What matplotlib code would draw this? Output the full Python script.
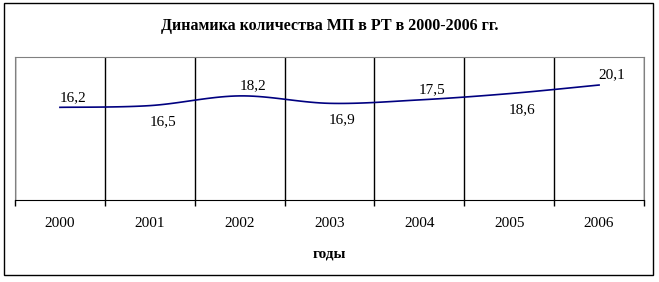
import matplotlib
matplotlib.use("Agg")
import matplotlib.pyplot as plt
import numpy as np
from matplotlib.patches import Rectangle

years = ["2000", "2001", "2002", "2003", "2004", "2005", "2006"]
values = [16.2, 16.5, 18.2, 16.9, 17.5, 18.6, 20.1]
value_labels = ["16,2", "16,5", "18,2", "16,9", "17,5", "18,6", "20,1"]
title = "Динамика количества МП в РТ в 2000-2006 гг."
x_title = "годы"


def smooth(xs, ys, steps=20):
    # Excel-style smoothed line: cubic Bezier through the points
    xs = np.asarray(xs, float)
    ys = np.asarray(ys, float)
    px, py = [], []
    n = len(xs)
    for i in range(n - 1):
        x0, y0 = xs[max(i - 1, 0)], ys[max(i - 1, 0)]
        x1, y1 = xs[i], ys[i]
        x2, y2 = xs[i + 1], ys[i + 1]
        x3, y3 = xs[min(i + 2, n - 1)], ys[min(i + 2, n - 1)]
        c1 = (x1 + (x2 - x0) / 6, y1 + (y2 - y0) / 6)
        c2 = (x2 - (x3 - x1) / 6, y2 - (y3 - y1) / 6)
        t = np.linspace(0, 1, steps)
        a, b, c, d = (1 - t) ** 3, 3 * (1 - t) ** 2 * t, 3 * (1 - t) * t ** 2, t ** 3
        px.extend(a * x1 + b * c1[0] + c * c2[0] + d * x2)
        py.extend(a * y1 + b * c1[1] + c * c2[1] + d * y2)
    return np.array(px), np.array(py)


plt.rcParams["font.family"] = ["Liberation Serif", "DejaVu Serif"]

fig = plt.figure(figsize=(6.59, 2.82), dpi=100)
fig.patches.append(Rectangle((4 / 659, 1 - 275 / 282), 649 / 659, 272 / 282,
                             transform=fig.transFigure, fill=False,
                             edgecolor="black", linewidth=1.0))
ax = fig.add_axes([15 / 659, 1 - 200 / 282, 629 / 659, 143 / 282])

x = np.arange(len(years))
sx, sy = smooth(x, values)
ax.plot(sx, sy, color="#000080", linewidth=1.2, zorder=3)

for i, (xi, v, lab) in enumerate(zip(x, values, value_labels)):
    dy = 10 if i % 2 == 0 else -16
    ax.annotate(lab, (xi, v), xytext=(13, dy), textcoords="offset pixels",
                ha="center", va="center", fontsize=11, color="black")

ax.set_xlim(-0.5, len(years) - 0.5)
ax.set_ylim(0, 25)
ax.set_yticks([])
ax.set_xticks(x)
ax.set_xticklabels(years, fontsize=11)
ax.set_xticks(np.arange(len(years) + 1) - 0.5, minor=True)
ax.tick_params(axis="x", which="major", length=0, pad=12.5)
ax.tick_params(axis="x", which="minor", length=4, width=1, color="black", direction="out")
ax.grid(axis="x", which="minor", color="black", linewidth=1)
ax.set_axisbelow(True)
for side in ["left", "right", "top"]:
    ax.spines[side].set_color("#808080")
ax.spines["bottom"].set_color("black")
ax.set_xlabel(x_title, fontsize=11, fontweight="bold", labelpad=12)
fig.text(0.5, 1 - 26 / 282, title, ha="center", va="center",
         fontsize=11.5, fontweight="bold")

fig.savefig("out.png", dpi=100)
